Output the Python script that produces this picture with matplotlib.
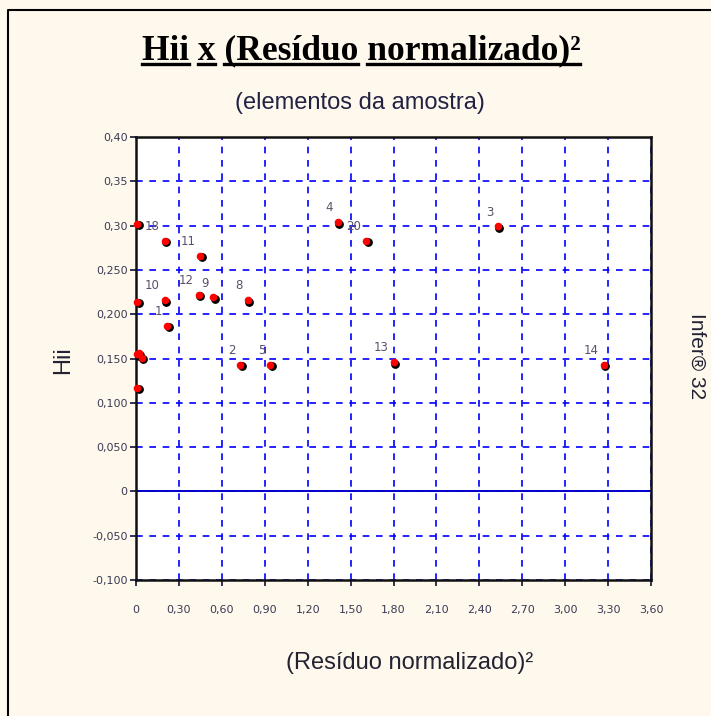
import numpy as np
import matplotlib
matplotlib.use('Agg')
import matplotlib.pyplot as plt
from matplotlib.lines import Line2D

# data (points on x=0 have their labels hidden by the axis edge)
labels = ['18', '11', '10', '1', '12', '9', '8', '2', '5', '4', '20', '3', '13', '14',
          '', '', '', '', '', '']
residuo2 = [0.20, 0.45, 0.20, 0.22, 0.44, 0.54, 0.78, 0.73, 0.94, 1.41, 1.61, 2.53, 1.80, 3.27,
            0.01, 0.01, 0.01, 0.04, 0.01, 0.02]
hii = [0.283, 0.266, 0.216, 0.187, 0.222, 0.219, 0.216, 0.143, 0.143, 0.304, 0.283, 0.299, 0.146, 0.143,
       0.302, 0.214, 0.155, 0.151, 0.117, 0.156]

xticks = [0, 0.3, 0.6, 0.9, 1.2, 1.5, 1.8, 2.1, 2.4, 2.7, 3.0, 3.3, 3.6]
xticklabels = ['0', '0,30', '0,60', '0,90', '1,20', '1,50', '1,80', '2,10', '2,40', '2,70',
               '3,00', '3,30', '3,60']
yticks = [-0.1, -0.05, 0, 0.05, 0.1, 0.15, 0.2, 0.25, 0.3, 0.35, 0.4]
yticklabels = ['-0,100', '-0,050', '0', '0,050', '0,100', '0,150', '0,200', '0,250',
               '0,30', '0,35', '0,40']

W, H = 711, 716
fig = plt.figure(figsize=(W / 100, H / 100), dpi=100, facecolor='#FFF8EC')
ax = fig.add_axes([136 / W, 1 - 580 / H, 515 / W, 443 / H], facecolor='white')

ax.set_xlim(0, 3.6)
ax.set_ylim(-0.1, 0.4)
ax.set_xticks(xticks)
ax.set_xticklabels(xticklabels)
ax.set_yticks(yticks)
ax.set_yticklabels(yticklabels)
ax.tick_params(labelsize=8, labelcolor='#3a3a55', length=4, width=1.2, color='#111133')
ax.tick_params(axis='x', pad=14)
ax.tick_params(axis='y', pad=2)
for lab in ax.get_xticklabels() + ax.get_yticklabels():
    lab.set_family('DejaVu Sans')
for s in ax.spines.values():
    s.set_color('#111111')
    s.set_linewidth(1.8)

# grid
ax.grid(True, color='#0000FF', linestyle=(0, (4, 4)), linewidth=1.2)
ax.set_axisbelow(True)
ax.axhline(0, color='#0000CC', linewidth=1.4)

# points with small shadow
ax.scatter(np.array(residuo2) + 0.009, np.array(hii) - 0.0018, s=28, marker='o', color='black',
           zorder=3, clip_on=False)
ax.scatter(residuo2, hii, s=30, marker='o', color='#FF0000', linewidths=0,
           zorder=4, clip_on=False)
for lab, x, y in zip(labels, residuo2, hii):
    if lab:
        ax.annotate(lab, (x, y), xytext=(-3.5, 5.5), textcoords='offset points', ha='right',
                    va='bottom', fontsize=8.5, color='#5a5068', family='DejaVu Sans')

# texts
fig.text(360 / W, 1 - 103 / H, '(elementos da amostra)', ha='center', va='center',
         fontsize=17, family='Liberation Sans', color='#222244')
fig.text(410 / W, 1 - 663 / H, '(Resíduo normalizado)²', ha='center', va='center',
         fontsize=17, family='Liberation Sans', color='#222233')
fig.text(63 / W, 1 - 360 / H, 'Hii', ha='center', va='center', rotation=90,
         fontsize=17, family='Liberation Sans', color='#222233')
fig.text(697 / W, 1 - 356 / H, 'Infer® 32', ha='center', va='center', rotation=-90,
         fontsize=15, family='Liberation Sans', color='#222233')

# title with underlined words
title = 'Hii x (Resíduo normalizado)²'
tfont = dict(fontsize=25.5, family='Liberation Serif', weight='bold', color='black')
t = fig.text(361 / W, 1 - 59 / H, title, ha='center', va='baseline', **tfont)
r = fig.canvas.get_renderer()
bb = t.get_window_extent(r)
x0 = bb.x0
pos = 0
for word in title.split(' '):
    start = title.index(word, pos)
    pos = start + len(word)
    pre = fig.text(0, 0, title[:start], **tfont)
    wd = fig.text(0, 0, word, **tfont)
    px = pre.get_window_extent(r).width if start > 0 else 0
    ww = wd.get_window_extent(r).width
    pre.remove()
    wd.remove()
    ybase = 1 - 64 / H
    fig.add_artist(Line2D([(x0 + px) / W, (x0 + px + ww) / W], [ybase, ybase],
                          color='black', linewidth=2.4, transform=fig.transFigure))

# frame around the panel
fig.add_artist(Line2D([8 / W, 8 / W, 1], [0, 1 - 10 / H, 1 - 10 / H], color='black', linewidth=1.5,
                      transform=fig.transFigure))

fig.savefig('out.png', dpi=100, facecolor=fig.get_facecolor())
